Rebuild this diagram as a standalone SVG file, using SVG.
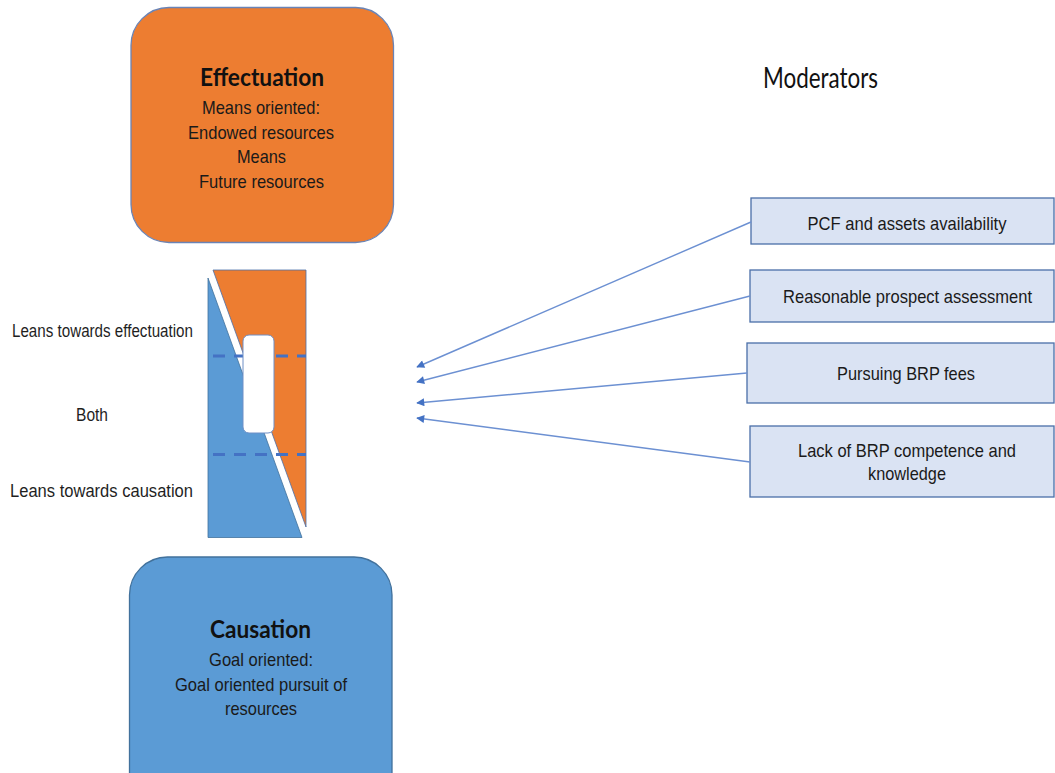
<svg xmlns="http://www.w3.org/2000/svg" width="1055" height="773" viewBox="0 0 1055 773">
<defs>
<style>
.title{font-family:Lato,"Open Sans","Liberation Sans",sans-serif;font-weight:bold;fill:#111;text-anchor:middle}
.body{font-family:"Liberation Sans",Arial,sans-serif;fill:#1a1a1a;text-anchor:middle}
.lbl{font-family:"Liberation Sans",Arial,sans-serif;fill:#1f1f1f;font-size:17.5px}
.mod{fill:#DAE3F3;stroke:#4A6FA8;stroke-width:1.3}
.conn{stroke:#6C90D2;stroke-width:1.4;fill:none;marker-end:url(#ah)}
.dash{stroke:#4472C4;stroke-width:3;stroke-dasharray:12 9;fill:none}
</style>
<marker id="ah" viewBox="0 0 10 10" refX="9" refY="5" markerWidth="9" markerHeight="8" markerUnits="userSpaceOnUse" orient="auto">
<path d="M0,0 L10,5 L0,10 z" fill="#4472C4"/>
</marker>
</defs>
<rect width="1055" height="773" fill="#fff"/>

<g id="effectuation">
<rect x="131" y="7.5" width="262.5" height="235" rx="38" fill="#ED7D31" stroke="#6A84B6" stroke-width="1.3"/>
<text class="title" x="262" y="86" font-size="24.5" textLength="124" lengthAdjust="spacingAndGlyphs">Effectuation</text>
<text class="body" x="261" y="114" font-size="19" textLength="118" lengthAdjust="spacingAndGlyphs">Means oriented:</text>
<text class="body" x="261" y="139" font-size="19" textLength="146" lengthAdjust="spacingAndGlyphs">Endowed resources</text>
<text class="body" x="261.5" y="163" font-size="19" textLength="49" lengthAdjust="spacingAndGlyphs">Means</text>
<text class="body" x="261.5" y="188" font-size="19" textLength="125" lengthAdjust="spacingAndGlyphs">Future resources</text>
</g>

<g id="causation">
<rect x="129.5" y="557" width="262.5" height="260" rx="38" fill="#5B9BD5" stroke="#41719C" stroke-width="1.3"/>
<text class="title" x="260.5" y="638" font-size="24.5" textLength="101" lengthAdjust="spacingAndGlyphs">Causation</text>
<text class="body" x="261" y="666" font-size="19" textLength="104" lengthAdjust="spacingAndGlyphs">Goal oriented:</text>
<text class="body" x="261" y="691" font-size="19" textLength="172" lengthAdjust="spacingAndGlyphs">Goal oriented pursuit of</text>
<text class="body" x="261" y="715" font-size="19" textLength="72" lengthAdjust="spacingAndGlyphs">resources</text>
</g>

<g id="spectrum">
<polygon points="208,278 208,537.5 302,537.5" fill="#5B9BD5" stroke="#41719C" stroke-width="0.8"/>
<polygon points="213,270 306,270 306,527" fill="#ED7D31" stroke="#4A6FA8" stroke-width="0.8"/>
<line class="dash" x1="213" y1="356" x2="306" y2="356"/>
<line class="dash" x1="213" y1="454.5" x2="306" y2="454.5"/>
<rect x="243" y="335" width="31" height="98" rx="6" fill="#fff" stroke="#6E8FC6" stroke-width="1"/>
</g>

<g id="labels">
<text class="lbl" x="12" y="337" textLength="181" lengthAdjust="spacingAndGlyphs">Leans towards effectuation</text>
<text class="lbl" x="76" y="421" textLength="32" lengthAdjust="spacingAndGlyphs">Both</text>
<text class="lbl" x="10" y="497" textLength="183" lengthAdjust="spacingAndGlyphs">Leans towards causation</text>
</g>

<g id="moderators-title">
<text x="763" y="88" font-family="Lato,'Open Sans','Liberation Sans',sans-serif" font-size="28" fill="#111" textLength="115" lengthAdjust="spacingAndGlyphs">Moderators</text>
</g>

<g id="m1">
<rect class="mod" x="751" y="198" width="303" height="46"/>
<text class="body" x="907" y="230" font-size="19" textLength="199" lengthAdjust="spacingAndGlyphs">PCF and assets availability</text>
</g>
<g id="m2">
<rect class="mod" x="750" y="270" width="304" height="52"/>
<text class="body" x="907.5" y="303" font-size="19" textLength="249" lengthAdjust="spacingAndGlyphs">Reasonable prospect assessment</text>
</g>
<g id="m3">
<rect class="mod" x="747" y="343" width="307" height="60"/>
<text class="body" x="906" y="380" font-size="19" textLength="138" lengthAdjust="spacingAndGlyphs">Pursuing BRP fees</text>
</g>
<g id="m4">
<rect class="mod" x="750" y="426" width="304" height="71"/>
<text class="body" x="907" y="457" font-size="19" textLength="218" lengthAdjust="spacingAndGlyphs">Lack of BRP competence and</text>
<text class="body" x="907" y="480" font-size="19" textLength="78" lengthAdjust="spacingAndGlyphs">knowledge</text>
</g>

<g id="connectors">
<line class="conn" x1="751" y1="222" x2="417" y2="367"/>
<line class="conn" x1="750" y1="296" x2="417" y2="382"/>
<line class="conn" x1="747" y1="373" x2="417" y2="403"/>
<line class="conn" x1="750" y1="462" x2="417" y2="418"/>
</g>
</svg>
